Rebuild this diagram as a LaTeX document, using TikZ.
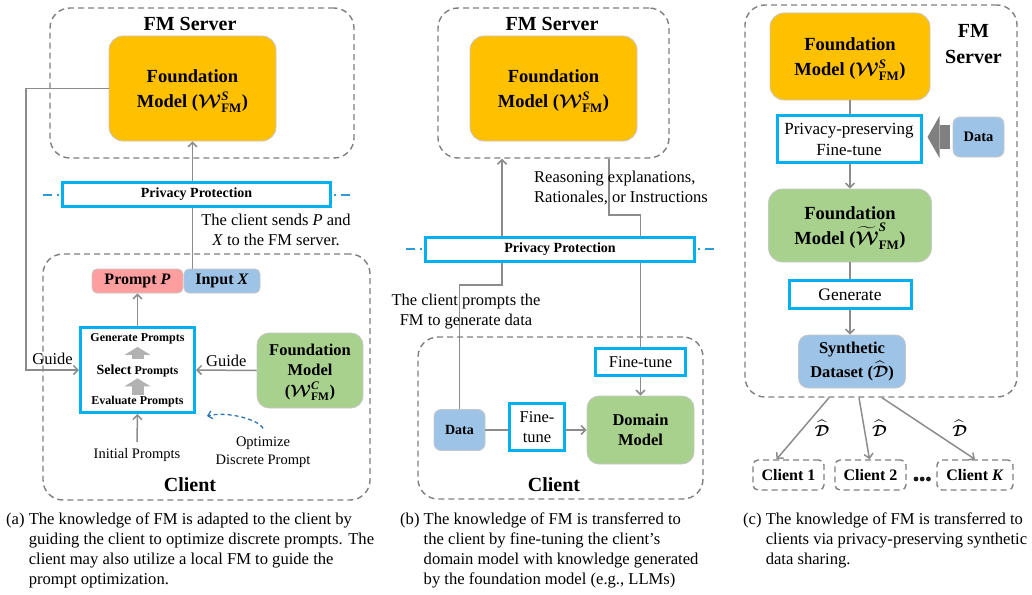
\RequirePackage{fix-cm}
\documentclass[tikz,border=0pt]{standalone}
\usepackage{amsmath,bm}
\usepackage{fontspec}
\setmainfont{Liberation Serif}
\usetikzlibrary{arrows.meta,backgrounds,calc}
\definecolor{fmorange}{HTML}{FFC000}
\definecolor{fmgreen}{HTML}{A9D18E}
\definecolor{fmblue}{HTML}{9DC3E6}
\definecolor{fmpink}{HTML}{FF9E9E}
\definecolor{ppblue}{HTML}{00B0F0}
\definecolor{linegray}{HTML}{8C8C8C}
\definecolor{boxgray}{HTML}{7F7F7F}
\definecolor{dashblue}{HTML}{2E9AD6}
\definecolor{optblue}{HTML}{2E75B6}
\newcommand{\fsz}[2]{\fontsize{#1}{#2}\selectfont}
\newcommand{\wfm}[1]{\(\bm{\mathcal{W}}^{\textbf{\textit{#1}}}_{\textbf{FM}}\)}
\newcommand{\wfmt}[1]{\(\widetilde{\bm{\mathcal{W}}}^{\textbf{\textit{#1}}}_{\textbf{FM}}\)}
\newcommand{\dhat}{\(\widehat{\bm{\mathcal{D}}}\)}
\newcommand{\fmlabel}[1]{\rule{0pt}{18.5pt}Foundation\\Model (#1)}
\newcommand{\hang}[1]{\hphantom{(#1)~}}
\newcommand{\privacy}[3]{%
 \node[ppbox, wh={#3}{24}, font=\fsz{14}{16}\bfseries] (#1) at (#2) {Privacy Protection};%
 \draw[privline] (#1.west) ++(-18,0) -- (#1.west);%
 \draw[privline] (#1.east) ++(18,0) -- (#1.east);%
}
\newcommand{\client}[4]{%
 \node[dashgroup, rounded corners=5pt, wh={#3}{30}, font=\fsz{16}{18}\bfseries] (#1) at (#2) {Client #4};%
}

\begin{document}
\begin{tikzpicture}[x=1pt, y=-1pt,
  every node/.style={inner sep=0pt, align=center},
  wh/.style 2 args={minimum width=#1pt, minimum height=#2pt},
  dashgroup/.style={draw=boxgray, line width=1.4pt, dash pattern=on 6pt off 4pt, rounded corners=20pt},
  model/.style={draw=black!22, line width=.8pt, rounded corners=14pt, font=\fsz{18.5}{25}\bfseries},
  tag/.style={draw=black!22, line width=.8pt, rounded corners=5pt, font=\fsz{16}{18}\bfseries},
  ppbox/.style={draw=ppblue, line width=3pt, fill=white},
  title/.style={font=\fsz{20}{26}\bfseries},
  note/.style={font=\fsz{16.5}{20}},
  small/.style={font=\fsz{14.5}{18}},
  stagetxt/.style={font=\fsz{12}{14}\bfseries},
  captxt/.style={font=\fsz{16.6}{19.8}, align=left, anchor=north west},
  link/.style={draw=linegray, line width=1.5pt},
  arr/.style={link, -{Straight Barb[length=4.5pt,width=9pt]}},
  fat/.style={draw=gray!60, line width=12pt, -{Triangle[length=8pt,width=26pt,line width=0pt]}},
  privline/.style={draw=dashblue, line width=2pt, dash pattern=on 9pt off 5pt on 2pt off 5pt},
  optarr/.style={draw=optblue, line width=1.3pt, dash pattern=on 4pt off 3pt, -{Straight Barb[length=4pt,width=8pt]}}]
 \useasboundingbox (0,0) rectangle (1032,594);

 % (a) prompt optimisation on the client
 \node[dashgroup, wh={304}{150}] (srvA) at (202,83) {};
 \node[title] (srvAt) at (190,24) {FM Server};
 \node[model, fill=fmorange, wh={167}{105}] (fmA) at (192.5,88.5) {\fmlabel{\wfm{S}}};
 \privacy{ppA}{196.5,194.5}{268}
 \node[note] (sendA) at (276,230) {The client sends \textit{P} and\\\textit{X} to the FM server.};
 \node[dashgroup, wh={327}{246}] (cliA) at (206.5,377) {};
 \node[title] (cliAt) at (190,485) {Client};
 \node[tag, fill=fmpink, wh={91}{24}] (promptA) at (137.5,281) {Prompt \textit{P}};
 \node[tag, fill=fmblue, wh={76}{24}] (inputA) at (222,281) {Input \textit{X}};
 \node[ppbox, wh={114}{85}] (evalA) at (137.5,370) {};
 \node[stagetxt] (genA) at (137.5,339) {Generate Prompts};
 \node[stagetxt] (selA) at (137.5,371) {{\fsz{14}{16}Select} Prompts};
 \node[stagetxt] (evA) at (137.5,402) {Evaluate Prompts};
 \node[model, fill=fmgreen, rounded corners=12pt, wh={106}{75}, font=\fsz{16.5}{20.5}\bfseries] (locA) at (310,370.5) {\rule{0pt}{15pt}Foundation\\Model\\(\wfm{C})};
 \node[small] (initA) at (137,455) {Initial Prompts};
 \node[small] (optA) at (263,452) {Optimize\\Discrete Prompt};
 \coordinate (guideA) at (26,370);
 \coordinate (optEnd) at (207,416);
 \begin{scope}[on background layer]
  \draw[arr] (inputA.north -| fmA.south) -- (fmA.south);
 \end{scope}
 \draw[arr] (fmA.west) -| (guideA) -- (evalA.west) node[note, midway, above=5pt] (guideAt) {Guide};
 \draw[arr] (locA.west) -- (evalA.east) node[note, midway, above=3pt] (guideBt) {Guide};
 \draw[arr] (evalA.north) -- (promptA.south);
 \draw[arr] (initA.north) ++(0,-6) -- (evalA.south);
 \draw[fat, shorten <=6pt, shorten >=2.5pt] (selA.north) -- (genA.south);
 \draw[fat, shorten <=1.5pt, shorten >=1pt] (evA.north) -- (selA.south);
 \draw[optarr] (optA.north) ++(0,-8) .. controls +(-4,-9) and +(20,-5) .. (optEnd);

 % (b) fine-tuning a domain model
 \node[dashgroup, wh={231}{150}] (srvB) at (553.5,83) {};
 \node[title] (srvBt) at (552,24) {FM Server};
 \node[model, fill=fmorange, wh={167}{105}] (fmB) at (553.5,88.5) {\fmlabel{\wfm{S}}};
 \node[note, anchor=west, align=left] (whyB) at (534,188) {Reasoning explanations,\\Rationales, or Instructions};
 \privacy{ppB}{560,249}{269}
 \node[note] (askB) at (466,312) {The client prompts the\\FM to generate data};
 \node[dashgroup, wh={285}{162}] (cliB) at (560.5,418) {};
 \node[title] (cliBt) at (554,485) {Client};
 \node[ppbox, note, wh={90}{27}] (ftB) at (640.5,362) {Fine-tune};
 \node[model, fill=fmgreen, rounded corners=12pt, wh={107}{68}, font=\fsz{16.5}{20}\bfseries] (domB) at (640.5,430) {Domain\\Model};
 \node[tag, fill=fmblue, rounded corners=7pt, wh={51}{41}, font=\fsz{14}{16}\bfseries] (dataB) at (459.5,430) {Data};
 \node[ppbox, note, wh={55}{47}] (ft2B) at (537,427) {Fine-\\tune};
 \coordinate (bendB) at (502,285);
 \coordinate (kneeB) at (609,215);
 \begin{scope}[on background layer]
  \draw[arr] (dataB.north) |- (bendB) -- (bendB |- srvB.south);
  \draw[link] (kneeB |- srvB.south) -- (kneeB) -| (ftB.north);
 \end{scope}
 \draw[link] (dataB.east) -- (dataB.east -| ft2B.west);
 \draw[arr] (ft2B.east |- domB.west) -- (domB.west);
 \draw[arr] (ftB.south) -- (domB.north);

 % (c) synthetic data sharing
 \node[dashgroup, wh={272}{392}] (srvC) at (881,201) {};
 \node[title] (srvCt) at (973.5,44) {FM\\Server};
 \node[model, fill=fmorange, wh={160}{87}] (fmC) at (850,56.5) {\fmlabel{\wfm{S}}};
 \node[ppbox, font=\fsz{17}{21}, wh={144}{47}] (ppC) at (849,139) {Privacy-preserving\\Fine-tune};
 \node[tag, fill=fmblue, rounded corners=7pt, wh={51}{40}, font=\fsz{14.5}{16}\bfseries] (dataC) at (978.5,137) {Data};
 \node[model, fill=fmgreen, wh={163}{73}] (greenC) at (850,225.5) {\fmlabel{\wfmt{S}}};
 \node[ppbox, font=\fsz{17.5}{20}, wh={122}{28}] (genC) at (850,294.5) {Generate};
 \node[tag, fill=fmblue, rounded corners=10pt, wh={107}{53}, font=\fsz{16.5}{24}\bfseries] (synC) at (852,361.5) {Synthetic\\Dataset (\dhat)};
 \client{c1}{788.5,475}{71}{1}
 \client{c2}{870.5,475}{71}{2}
 \client{cK}{975,475}{76}{\textit{K}}
 \foreach \i in {0,1,2} \fill[black!90] (916+6.2*\i,479) circle (2.4pt);
 \draw[link] (fmC.south) -- (ppC.north -| fmC.south);
 \draw[arr] (ppC.south -| fmC.south) -- (greenC.north);
 \draw[link] (greenC.south) -- (genC.north);
 \draw[arr] (genC.south) -- (synC.north -| genC.south);
 \draw[draw=black!50, line width=24pt, -{Triangle[length=12pt,width=42pt,line width=0pt]}, shorten <=3pt, shorten >=5pt] (dataC.west) -- (dataC.west -| ppC.east);
 \draw[arr] ($(srvC.south)+(-52,0)$) -- ($(c1.north)+(-12,0)$) node[pos=.5, right=11pt, font=\fsz{16}{18}] (d1) {\dhat};
 \draw[arr] ($(srvC.south)+(-22,0)$) -- ($(c2.north)+(-1,0)$) node[pos=.5, right=7pt, font=\fsz{16}{18}] (d2) {\dhat};
 \draw[arr] ($(srvC.south)+(1,0)$) -- (cK.north) node[pos=.5, right=23pt, font=\fsz{16}{18}] (dK) {\dhat};

 % captions
 \node[captxt] (capA) at (6,513) {(a) The knowledge of FM is adapted to the client by\\\hang{a}guiding the client to optimize discrete prompts. The\\\hang{a}client may also utilize a local FM to guide the\\\hang{a}prompt optimization.};
 \node[captxt] (capB) at (400,513) {(b) The knowledge of FM is transferred to\\\hang{b}the client by fine-tuning the client's\\\hang{b}domain model with knowledge generated\\\hang{b}by the foundation model (e.g., LLMs)};
 \node[captxt] (capC) at (743,513) {(c) The knowledge of FM is transferred to\\\hang{c}clients via privacy-preserving synthetic\\\hang{c}data sharing.};
\end{tikzpicture}
\end{document}
